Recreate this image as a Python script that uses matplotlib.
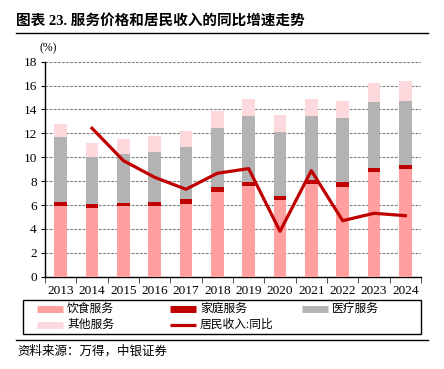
import numpy as np
import matplotlib
matplotlib.use("Agg")
import matplotlib.pyplot as plt
from matplotlib.lines import Line2D
from matplotlib.patches import Rectangle

plt.rcParams['font.family'] = ['Liberation Serif', 'Noto Sans CJK SC', 'DejaVu Sans']

years = ['2013', '2014', '2015', '2016', '2017', '2018',
         '2019', '2020', '2021', '2022', '2023', '2024']
# stacked contributions (%)
food = [5.92, 5.73, 5.92, 5.92, 6.09, 7.12, 7.62, 6.42, 7.74, 7.54, 8.74, 9.05]
household = [0.36, 0.36, 0.25, 0.36, 0.39, 0.37, 0.34, 0.36, 0.36, 0.36, 0.36, 0.33]
medical = [5.45, 3.91, 4.13, 4.19, 4.41, 4.99, 5.52, 5.31, 5.38, 5.42, 5.50, 5.33]
other = [1.06, 1.20, 1.23, 1.31, 1.31, 1.42, 1.40, 1.43, 1.40, 1.40, 1.62, 1.71]
# income yoy (no 2013 value)
income = [np.nan, 12.43, 9.72, 8.32, 7.32, 8.66, 9.05, 3.80, 8.88, 4.69, 5.31, 5.11]

c_food = '#FF9F9F'
c_house = '#C00000'
c_med = '#B3B3B3'
c_other = '#FDD8DC'
c_line = '#C00000'

W, H = 444, 369


def fx(px):
    return px / W


def fy(py):
    return 1 - py / H


fig = plt.figure(figsize=(4.44, 3.69), dpi=100)
ax = fig.add_axes([fx(45), fy(276.7), 376 / W, 215 / H])

x = np.arange(len(years))
w = 0.405
b1 = np.array(food)
b2 = b1 + np.array(household)
b3 = b2 + np.array(medical)
ax.bar(x, food, w, color=c_food, zorder=3)
ax.bar(x, household, w, bottom=b1, color=c_house, zorder=3)
ax.bar(x, medical, w, bottom=b2, color=c_med, zorder=3)
ax.bar(x, other, w, bottom=b3, color=c_other, zorder=3)
ax.plot(x, income, color=c_line, lw=2.3, zorder=4)

ax.set_xlim(-0.5, len(years) - 0.5)
ax.set_ylim(0, 18)
ax.set_yticks(np.arange(0, 19, 2))
ax.set_xticks(x)
ax.set_xticklabels(years)
ax.set_xticks(np.arange(-0.5, len(years)), minor=True)
ax.tick_params(axis='x', which='major', length=0, pad=6, labelsize=9.5)
ax.tick_params(axis='x', which='minor', length=4, direction='out', color='#333333')
ax.tick_params(axis='y', length=3, direction='out', labelsize=9.5, pad=3)
ax.yaxis.grid(True, linestyle=(0, (2.5, 1.2)), color='#808080', lw=0.8, zorder=0)
for s in ['top', 'right']:
    ax.spines[s].set_visible(False)
ax.spines['left'].set_linewidth(1.0)
ax.spines['bottom'].set_linewidth(1.0)

fig.text(fx(40), fy(48), '(%)', fontsize=8.5, ha='left', va='center')

# legend drawn by hand to keep the reference column positions
fig.add_artist(Rectangle((fx(23), fy(333.5)), 398 / W, 33.5 / H, fill=False,
                         edgecolor='black', lw=1.0, transform=fig.transFigure))
leg_items = [
    ('饮食服务', c_food, 5, 37, 308.5),
    ('家庭服务', c_house, 5, 170, 308.5),
    ('医疗服务', c_med, 5, 302, 308.5),
    ('其他服务', c_other, 5, 37, 324.5),
    ('居民收入:同比', c_line, 2.3, 170, 324.5),
]
for lab, col, lw, hx, hy in leg_items:
    fig.add_artist(Line2D([fx(hx), fx(hx + 26)], [fy(hy), fy(hy)], color=col, lw=lw,
                          solid_capstyle='butt'))
    fig.text(fx(hx + 30), fy(hy), lab, fontsize=8.5, ha='left', va='center')

fig.text(fx(16), fy(21), '图表 23. 服务价格和居民收入的同比增速走势',
         fontsize=10.5, fontweight='bold', ha='left', va='center')
fig.add_artist(Line2D([fx(16), fx(428)], [fy(33), fy(33)], color='black', lw=1.0))
fig.add_artist(Line2D([fx(16), fx(428)], [fy(339.5), fy(339.5)], color='black', lw=1.0))
fig.text(fx(17), fy(351), '资料来源：万得，中银证券', fontsize=9,
         style='italic', ha='left', va='center')

fig.savefig('out.png', dpi=100)
